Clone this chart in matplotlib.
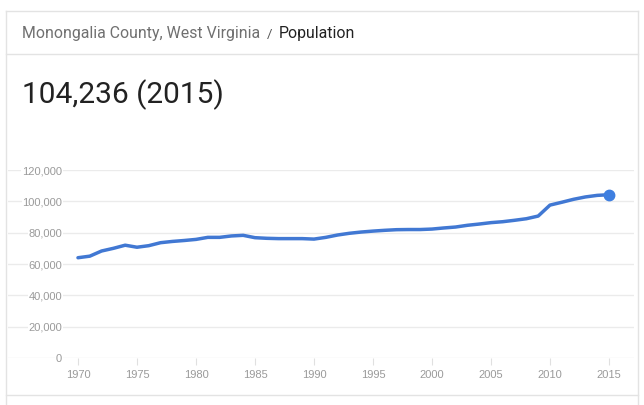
import numpy as np
import matplotlib
matplotlib.use('Agg')
import matplotlib.pyplot as plt
from matplotlib.lines import Line2D
from matplotlib.ticker import FuncFormatter

# population of Monongalia County
years = list(range(1970, 2016))
population = [
    64000, 65000, 68300, 70000, 72000, 70700, 71700, 73600, 74400, 75000,
    75700, 77000, 77000, 77900, 78300, 76800, 76400, 76200, 76200, 76200,
    75900, 77000, 78500, 79600, 80400, 81000, 81500, 81900, 82000, 82000,
    82300, 83000, 83600, 84700, 85500, 86400, 87000, 87900, 88900, 90600,
    97600, 99400, 101300, 102800, 103800, 104236,
]
x_ticks = [1970, 1975, 1980, 1985, 1990, 1995, 2000, 2005, 2010, 2015]
y_ticks = [0, 20000, 40000, 60000, 80000, 100000, 120000]

W, H = 644, 405
fig = plt.figure(figsize=(W / 100, H / 100), dpi=100)

def fx(px):
    return px / W

def fy(py):
    return 1 - py / H

# card borders
border = '#e3e3e3'
for xs, ys in [([6, 638], [11, 11]), ([6, 6], [11, 405]), ([638, 638], [11, 405]),
               ([6, 638], [54, 54]), ([6, 638], [395, 395])]:
    fig.add_artist(Line2D([fx(v) for v in xs], [fy(v) for v in ys],
                          color=border, lw=1, transform=fig.transFigure))

# header text
renderer = fig.canvas.get_renderer()
t1 = fig.text(fx(22), fy(38), 'Monongalia County, West Virginia', family='Roboto',
              fontsize=11.4, color='#707070', va='baseline')
bb = t1.get_window_extent(renderer)
t2 = fig.text(bb.x1 / W + fx(7), fy(38), '/', family='Roboto', fontsize=9.5,
              color='#555555', va='baseline')
bb2 = t2.get_window_extent(renderer)
fig.text(bb2.x1 / W + fx(6), fy(38), 'Population', family='Roboto', fontsize=11.4,
         color='#222222', va='baseline')

fig.text(fx(22), fy(103), '104,236 (2015)', family='Roboto', fontsize=21.5,
         color='#222222', va='baseline')

# chart area
left, right, top, bottom = 8, 634, 170, 358
ax = fig.add_axes([fx(left), fy(bottom), (right - left) / W, (bottom - top) / H])
ax.plot(years, population, color='#4178d3', lw=2.5, solid_capstyle='round',
        solid_joinstyle='round', clip_on=False, zorder=3)
ax.plot(years[-1], population[-1], 'o', color='#3f7fe0', ms=7.5, clip_on=False, zorder=4)

ax.set_xlim(1964.07, 2017.12)
ax.set_ylim(0, 120000)
ax.set_xticks(x_ticks)
ax.set_yticks(y_ticks)
ax.yaxis.set_major_formatter(FuncFormatter(lambda v, p: f'{int(v):,}'))
ax.grid(axis='y', color='#ebebeb', lw=1)
ax.set_axisbelow(True)
for s in ax.spines.values():
    s.set_visible(False)

ax.tick_params(axis='y', length=0, pad=-39, labelsize=8, labelcolor='#9a9a9a')
ax.tick_params(axis='x', length=5, width=0.8, color='#e0e0e0', pad=4,
               labelsize=8, labelcolor='#9a9a9a')
for lab in ax.get_yticklabels() + ax.get_xticklabels():
    lab.set_family('Liberation Sans')
for lab in ax.get_yticklabels():
    lab.set_bbox(dict(facecolor='white', edgecolor='none', pad=0.5))

fig.savefig('out.png', dpi=100)
